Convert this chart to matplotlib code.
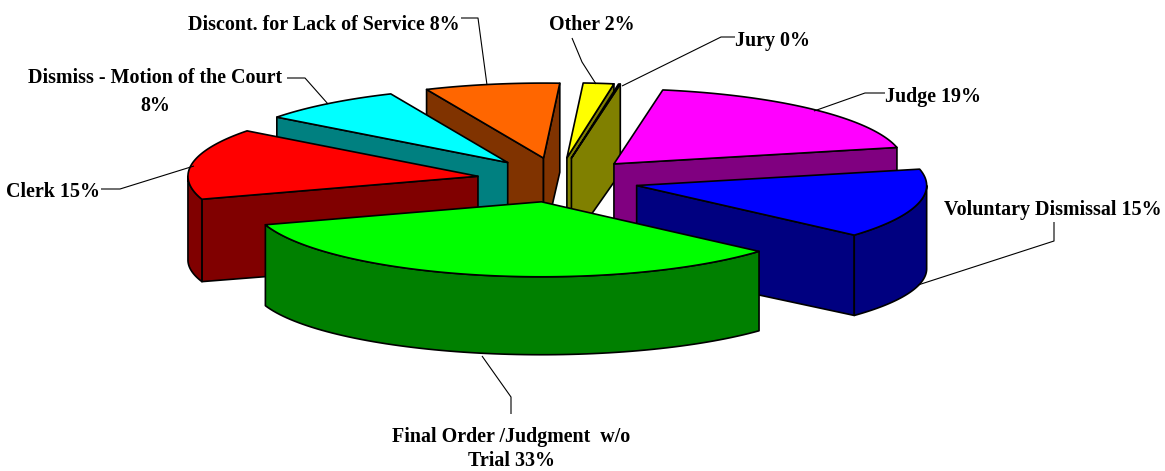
import numpy as np
from matplotlib import pyplot as plt
from matplotlib.patches import Polygon

# Slices, clockwise, starting with Judge
labels = ['Judge 19%', 'Voluntary Dismissal 15%', 'Final Order /Judgment  w/o\nTrial 33%', 'Clerk 15%',
          'Dismiss - Motion of the Court\n8%', 'Discont. for Lack of Service 8%', 'Other 2%', 'Jury 0%']
values = [18.8, 15.0, 33.55, 15.3, 8.05, 7.5, 1.7, 0.1]
top_colors = ['#FF00FF', '#0000FF', '#00FF00', '#FF0000', '#00FFFF', '#FF6600', '#FFFF00', '#808000']
side_colors = ['#800080', '#000080', '#008000', '#800000', '#008080', '#803300', '#808000', '#808000']

# label anchor (x, y, alignment, line spacing) and leader line, in pixels
label_pos = [(885, 97, 'left', 1.2), (944, 210, 'left', 1.2), (511, 449, 'center', 1.3), (100, 192, 'right', 1.2),
             (155, 92, 'center', 1.55), (460, 25, 'right', 1.2), (549, 25, 'left', 1.2), (735, 41, 'left', 1.2)]
leaders = [[(885, 93), (865, 93), (814, 111)],
           [(1054, 222), (1054, 241), (918, 285)],
           [(511, 414), (511, 397), (482, 356)],
           [(101, 189), (120, 189), (194, 166)],
           [(287, 78), (305, 78), (328, 104)],
           [(461, 18), (478, 18), (487, 85)],
           [(572, 38), (582, 62), (596, 84)],
           [(735, 37), (721, 37), (622, 86)]]

# pie geometry in pixels
cx, cy = 558, 180
rx, ry = 290, 75
explode = 0.28
start_angle = 9.7


def depth(y):
    # walls are a bit taller at the back of this chart
    return 83.5 + 4.3 * (cy - y) / ry


def project(t, r, apex):
    return apex[0] + r * rx * np.sin(t), apex[1] - r * ry * np.cos(t)


def wall(ax, top_pts, color):
    top_pts = np.array(top_pts)
    bottom = top_pts + np.column_stack([np.zeros(len(top_pts)), depth(top_pts[:, 1])])
    ax.add_patch(Polygon(np.vstack([top_pts, bottom[::-1]]), closed=True, fc=color, ec='black', lw=1.2,
                         joinstyle='round'))


fig = plt.figure(figsize=(11.65, 4.71), dpi=100)
ax = fig.add_axes([0, 0, 1, 1])
ax.set_xlim(0, 1165)
ax.set_ylim(471, 0)
ax.axis('off')

edges = start_angle + np.cumsum([0] + values) * 3.6
slices = []
for i in range(len(values)):
    slices.append((i, np.radians(edges[i]), np.radians(edges[i + 1])))
# paint from the back to the front
slices.sort(key=lambda s: -np.cos((s[1] + s[2]) / 2))

for i, a0, a1 in slices:
    mid = (a0 + a1) / 2
    apex = (cx + explode * rx * np.sin(mid), cy - explode * ry * 1.06 * np.cos(mid))
    # cut faces
    if np.sin(a0) < 0:
        wall(ax, [apex, project(a0, 1, apex)], side_colors[i])
    if np.sin(a1) > 0:
        wall(ax, [apex, project(a1, 1, apex)], side_colors[i])
    # outer wall, front half only
    for lo, hi in [(np.pi / 2, 3 * np.pi / 2), (2.5 * np.pi, 3.5 * np.pi)]:
        w0, w1 = max(a0, lo), min(a1, hi)
        if w1 > w0:
            ts = np.linspace(w0, w1, 80)
            wall(ax, [project(t, 1, apex) for t in ts], side_colors[i])
    ts = np.linspace(a0, a1, 120)
    pts = [apex] + [project(t, 1, apex) for t in ts]
    ax.add_patch(Polygon(pts, closed=True, fc=top_colors[i], ec='black', lw=1.2, joinstyle='round'))

for line in leaders:
    xs, ys = zip(*line)
    ax.plot(xs, ys, color='black', lw=0.8, solid_capstyle='butt')

for lab, (x, y, ha, sp) in zip(labels, label_pos):
    ax.text(x, y, lab, ha=ha, va='center', family='Liberation Serif', weight='bold', fontsize=14.4,
            color='black', linespacing=sp, multialignment='center')

fig.savefig('out.png', dpi=100)
